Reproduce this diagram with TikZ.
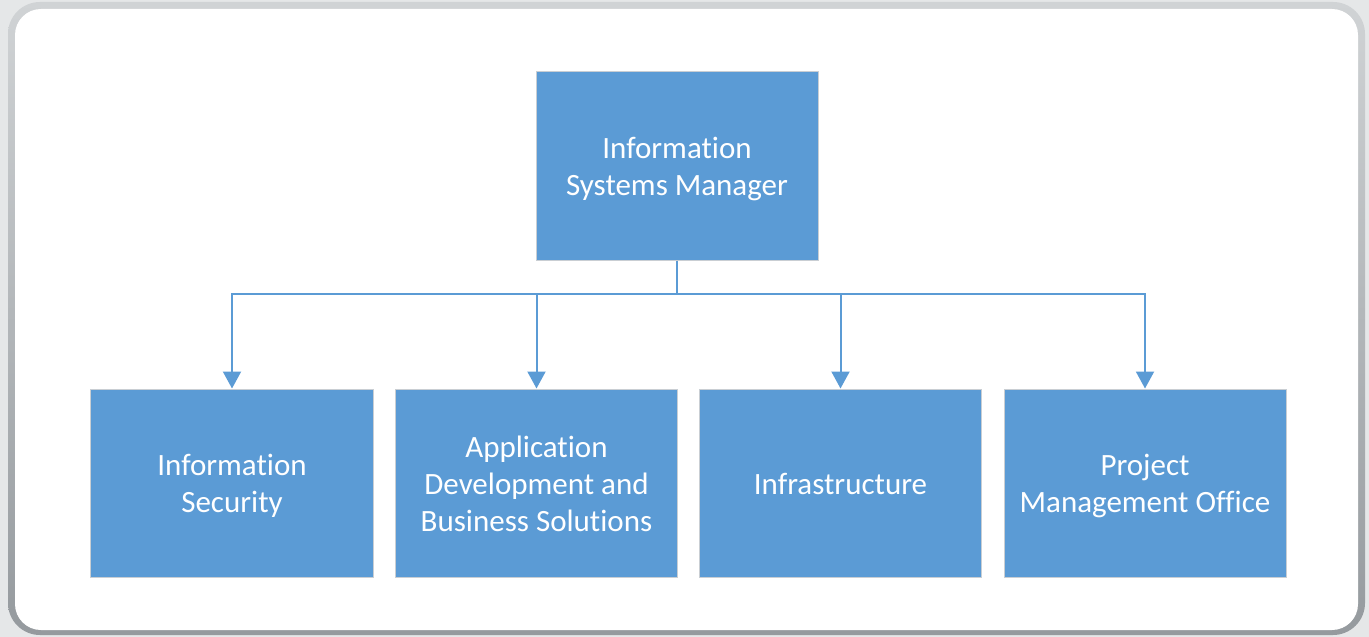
\documentclass[tikz,border=0pt]{standalone}
\usepackage{fontspec}
\setmainfont{Carlito}[Ligatures=NoCommon]
\usetikzlibrary{arrows.meta}
\definecolor{boxblue}{HTML}{5B9BD5}
\definecolor{boxedge}{HTML}{C9CED3}
\definecolor{pagebg}{HTML}{E5E7E8}
\definecolor{frametop}{HTML}{D0D3D5}
\definecolor{framebot}{HTML}{959A9E}
\tikzset{
  orgbox/.style={rectangle, draw=boxedge, line width=1bp, fill=boxblue,
    minimum width=282bp, minimum height=188bp, inner sep=0pt},
  boxtext/.style={inner sep=0pt, text=white, align=center,
    font=\fontsize{31bp}{37bp}\selectfont},
  conn/.style={draw=boxblue, line width=2bp},
  tip/.style={conn, -{Triangle[width=18bp,length=17bp]}}
}
\begin{document}
\begin{tikzpicture}[x=1bp, y=-1bp]
  % page and rounded frame
  \fill[pagebg] (0,0) rectangle (1369,637);
  \useasboundingbox (0,0) rectangle (1369,637);
  \shade[top color=frametop, bottom color=framebot, rounded corners=32bp]
    (8,2) rectangle (1365,635);
  \fill[white, rounded corners=26bp] (15,9) rectangle (1358,630);

  % boxes
  \node[orgbox] (ism) at (677,166) {};
  \node[orgbox] (sec) at (232,483) {};
  \node[orgbox] (app) at (536.5,483) {};
  \node[orgbox] (inf) at (840.5,483) {};
  \node[orgbox] (pmo) at (1145,483) {};

  % box labels
  \node[boxtext] (ism-t) at ([yshift=-3bp]ism.center) {Information\\Systems Manager};
  \node[boxtext] (sec-t) at ([yshift=-3bp]sec.center) {Information\\Security};
  \node[boxtext] (app-t) at ([yshift=-1bp]app.center) {Application\\Development and\\Business Solutions};
  \node[boxtext] (inf-t) at ([yshift=-1bp]inf.center) {Infrastructure};
  \node[boxtext] (pmo-t) at ([yshift=-3bp]pmo.center) {Project\\Management Office};

  % connectors
  \coordinate (bus) at (677,294);
  \draw[conn] (ism.south) -- (bus);
  \draw[tip] (bus) -| (sec.north);
  \draw[tip] (bus) -| (app.north);
  \draw[tip] (bus) -| (inf.north);
  \draw[tip] (bus) -| (pmo.north);
\end{tikzpicture}
\end{document}
